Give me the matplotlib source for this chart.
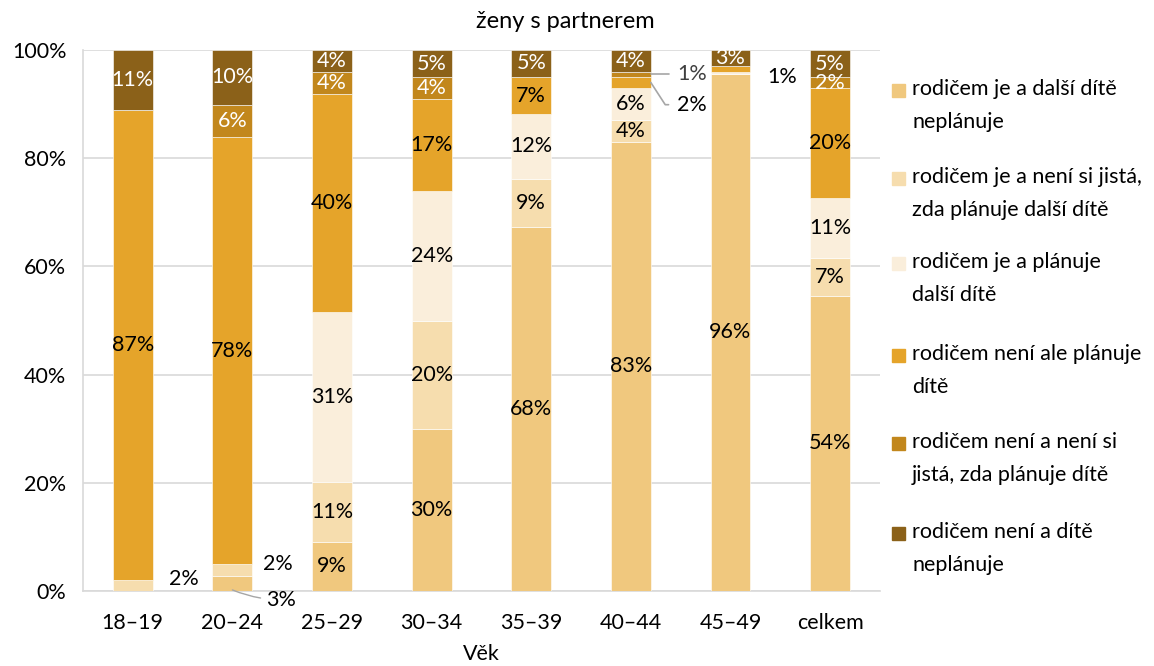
import matplotlib
matplotlib.use("Agg")
import matplotlib.pyplot as plt
from matplotlib.patches import Rectangle
import numpy as np

plt.rcParams['font.family'] = ['Lato', 'DejaVu Sans']

# ---- data -------------------------------------------------------------
categories = ["18–19", "20–24", "25–29", "30–34", "35–39", "40–44", "45–49", "celkem"]
series_names = [
    "rodičem je a další dítě\nneplánuje",
    "rodičem je a není si jistá,\nzda plánuje další dítě",
    "rodičem je a plánuje\ndalší dítě",
    "rodičem není ale plánuje\ndítě",
    "rodičem není a není si\njistá, zda plánuje dítě",
    "rodičem není a dítě\nneplánuje",
]
je_nepl = [0, 2.8, 9, 30, 68, 83, 95.6, 54]
je_nejista = [2, 2.2, 11, 20, 9, 4, 0, 7]
je_planuje = [0, 0, 31, 24, 12, 6, 0.4, 11]
neni_planuje = [87, 78, 40, 17, 7, 2, 1, 20]
neni_nejista = [0, 6, 4, 4, 0, 1, 0, 2]
neni_nepl = [11, 10, 4, 5, 5, 4, 3, 5]

colors = ["#F0C87E", "#F6DDAE", "#FAEEDB", "#E5A42A", "#C2871C", "#8B6119"]
label_colors = ["black", "black", "black", "black", "white", "white"]

FS = 15.5

# labels drawn outside the bar: (category, series) -> (dx pt, dy pt, leader style)
outside = {
    (0, 1): (37, 5, None),
    (1, 1): (33, 4, None),
    (1, 0): (35, -7, "below"),
    (5, 4): (44, 0, "angle,angleA=0,angleB=15,rad=0"),
    (5, 3): (44, -16, "angle,angleA=0,angleB=-57,rad=0"),
    (6, 3): (37, -6, None),
}
outside_colors = {(5, 4): "#404040"}

data = np.array([je_nepl, je_nejista, je_planuje, neni_planuje, neni_nejista, neni_nepl], dtype=float)
shares = data / data.sum(axis=0) * 100

fig = plt.figure(figsize=(11.54, 6.66), dpi=100)
ax = fig.add_axes([0.0719, 0.1126, 0.6906, 0.8123])

x = np.arange(len(categories))
width = 0.4
bottom = np.zeros(len(categories))
for i in range(len(series_names)):
    ax.bar(x, shares[i], width, bottom=bottom, color=colors[i],
           edgecolor="white", linewidth=0.4, zorder=3)
    for j in range(len(categories)):
        v = data[i, j]
        if v < 0.95:
            continue
        yc = bottom[j] + shares[i, j] / 2
        txt = f"{v:.0f}%"
        if (j, i) in outside:
            dx, dy, style = outside[(j, i)]
            col = outside_colors.get((j, i), "black")
            if style is None:
                ax.annotate(txt, (x[j], yc), xytext=(dx, dy), textcoords="offset points",
                            ha="center", va="center", fontsize=FS, color=col, zorder=5)
            elif style == "below":
                ax.annotate(txt, (x[j], 0.2), xytext=(dx, dy), textcoords="offset points",
                            ha="center", va="center", fontsize=FS, color=col, zorder=5,
                            arrowprops=dict(arrowstyle="-", color="#A6A6A6", lw=1,
                                            shrinkA=2, shrinkB=0,
                                            connectionstyle="arc3,rad=-0.1"))
            else:
                ax.annotate(txt, (x[j] + width / 2, yc), xytext=(dx - 14.5, dy),
                            textcoords="offset points",
                            ha="center", va="center", fontsize=FS, color=col, zorder=5,
                            arrowprops=dict(arrowstyle="-", color="#A6A6A6", lw=1.2,
                                            shrinkA=4, shrinkB=0,
                                            connectionstyle=style))
        else:
            ax.text(x[j], yc, txt, ha="center", va="center", fontsize=FS,
                    color=label_colors[i], zorder=5)
    bottom += shares[i]

ax.set_xlim(-0.5, len(categories) - 0.5)
ax.set_ylim(0, 100)
ax.set_yticks(np.arange(0, 101, 20))
ax.set_yticklabels([f"{t}%" for t in range(0, 101, 20)])
ax.set_xticks(x)
ax.set_xticklabels(categories)
ax.tick_params(axis="both", length=0, labelsize=FS)
ax.tick_params(axis="y", pad=12)
ax.tick_params(axis="x", pad=16)
ax.grid(axis="y", color="#D9D9D9", lw=1.2, zorder=0)
for s in ["top", "right"]:
    ax.spines[s].set_visible(False)
for s in ["left", "bottom"]:
    ax.spines[s].set_color("#D9D9D9")
    ax.spines[s].set_linewidth(1.2)
ax.set_xlabel("Věk", fontsize=FS, labelpad=8)

fig.text(565 / 1154, 1 - 22 / 666, "ženy s partnerem", ha="center", va="center", fontsize=17)

# legend (drawn by hand so the marker sits on the first line)
leg_top = [90, 178, 263, 355, 443, 533]
for i, name in enumerate(series_names):
    yy = 1 - leg_top[i] / 666
    fig.add_artist(Rectangle((892 / 1154, yy - 6.5 / 666), 13 / 1154, 13 / 666,
                             transform=fig.transFigure, color=colors[i]))
    fig.text(912 / 1154, yy + 11 / 666, name, ha="left", va="top", fontsize=FS,
             linespacing=1.8)

fig.savefig("out.png", dpi=100)
